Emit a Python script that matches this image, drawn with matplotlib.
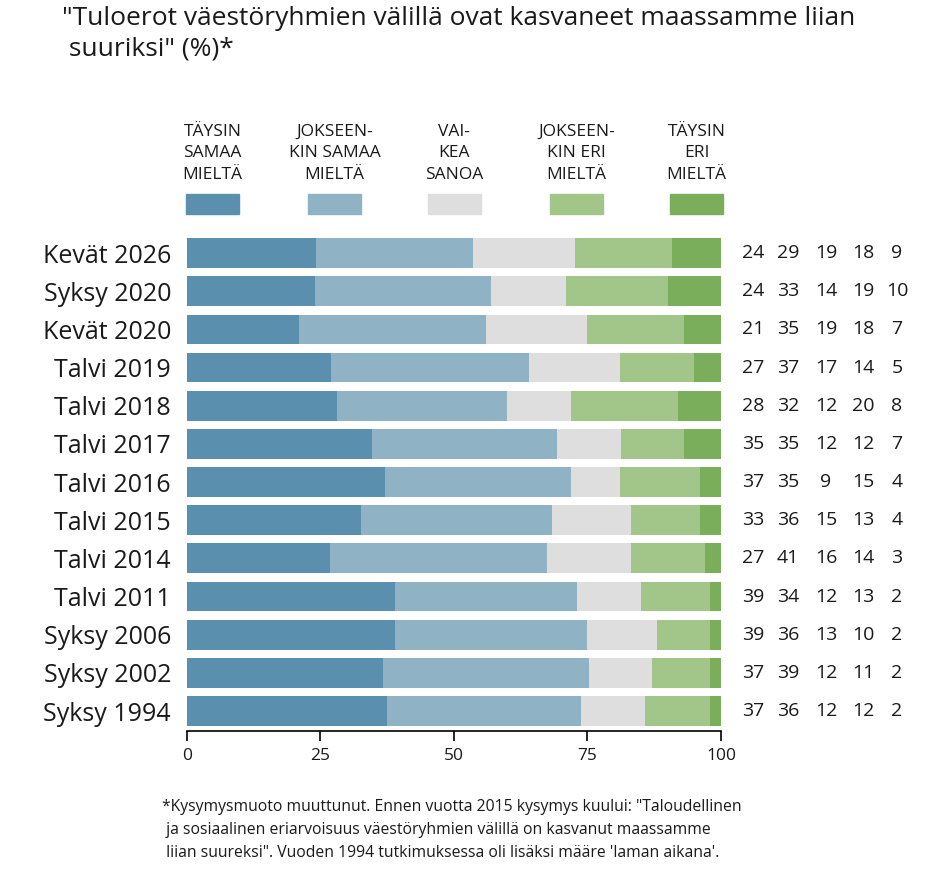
import matplotlib
matplotlib.use("Agg")
import matplotlib.pyplot as plt
import matplotlib.transforms as mtransforms
from matplotlib.patches import Rectangle
import numpy as np

plt.rcParams['font.family'] = ['Open Sans', 'DejaVu Sans']

title = '"Tuloerot väestöryhmien välillä ovat kasvaneet maassamme liian\n suuriksi" (%)*'
categories = ["Kevät 2026", "Syksy 2020", "Kevät 2020", "Talvi 2019", "Talvi 2018",
              "Talvi 2017", "Talvi 2016", "Talvi 2015", "Talvi 2014", "Talvi 2011",
              "Syksy 2006", "Syksy 2002", "Syksy 1994"]
series_names = ["TÄYSIN\nSAMAA\nMIELTÄ", "JOKSEEN-\nKIN SAMAA\nMIELTÄ", "VAI-\nKEA\nSANOA",
                "JOKSEEN-\nKIN ERI\nMIELTÄ", "TÄYSIN\nERI\nMIELTÄ"]
taysin_samaa = [24, 24, 21, 27, 28, 35, 37, 33, 27, 39, 39, 37, 37]
jokseenkin_samaa = [29, 33, 35, 37, 32, 35, 35, 36, 41, 34, 36, 39, 36]
vaikea_sanoa = [19, 14, 19, 17, 12, 12, 9, 15, 16, 12, 13, 12, 12]
jokseenkin_eri = [18, 19, 18, 14, 20, 12, 15, 13, 14, 13, 10, 11, 12]
taysin_eri = [9, 10, 7, 5, 8, 7, 4, 4, 3, 2, 2, 2, 2]
x_ticks = [0, 25, 50, 75, 100]
footnote = ("*Kysymysmuoto muuttunut. Ennen vuotta 2015 kysymys kuului: \"Taloudellinen\n"
            " ja sosiaalinen eriarvoisuus väestöryhmien välillä on kasvanut maassamme\n"
            " liian suureksi\". Vuoden 1994 tutkimuksessa oli lisäksi määre 'laman aikana'.")

colors = ["#5A8FAE", "#8FB3C5", "#DEDEDE", "#A2C589", "#7AAE5B"]
text_color = "#1a1a1a"

W, H = 937, 872
fig = plt.figure(figsize=(W / 100, H / 100), dpi=100)
ax = fig.add_axes([187 / W, 1 - 731 / H, (721 - 187) / W, (731 - 234) / H])

series = np.array([taysin_samaa, jokseenkin_samaa, vaikea_sanoa, jokseenkin_eri, taysin_eri], dtype=float)
totals = series.sum(axis=0)
norm = series / totals * 100
n = len(categories)
ypos = np.arange(n)[::-1]
left = np.zeros(n)
for i in range(5):
    ax.barh(ypos, norm[i], left=left, height=0.78, color=colors[i], edgecolor='none')
    left += norm[i]

ax.set_xlim(0, 100)
ax.set_ylim(-0.524, n - 0.5)
ax.set_yticks(ypos)
ax.set_yticklabels(categories, fontsize=18, color=text_color)
ax.tick_params(axis='y', length=0, pad=11.5)
ax.set_xticks(x_ticks)
ax.set_xticklabels([str(t) for t in x_ticks], fontsize=12.5, color=text_color)
ax.tick_params(axis='x', length=7, width=1.2, pad=5, color='black')
for s in ['top', 'right', 'left']:
    ax.spines[s].set_visible(False)
ax.spines['bottom'].set_linewidth(1.2)

# value columns
trans = mtransforms.blended_transform_factory(fig.transFigure, ax.transData)
col_x = [753, 788, 826, 863, 897]
for i in range(5):
    for j in range(n):
        ax.text(col_x[i] / W, ypos[j], str(int(series[i, j])), transform=trans,
                ha='center', va='center', fontsize=14, clip_on=False, color=text_color)

# legend
patch_x = [186, 308, 428, 550, 670]
for i in range(5):
    fig.add_artist(Rectangle((patch_x[i] / W, 1 - 214 / H), 53 / W, 20 / H,
                             transform=fig.transFigure, color=colors[i]))
    fig.text((patch_x[i] + 26.5) / W, 1 - 183 / H, series_names[i], ha='center', va='bottom',
             fontsize=12.5, linespacing=1.47, color=text_color)

fig.text(62 / W, 1 - 6 / H, title, ha='left', va='top', fontsize=19, linespacing=1.3,
         color=text_color)
fig.text(162 / W, 1 - 799 / H, footnote, ha='left', va='top', fontsize=11.3, linespacing=1.57,
         color=text_color)

fig.savefig("out.png", dpi=100)
